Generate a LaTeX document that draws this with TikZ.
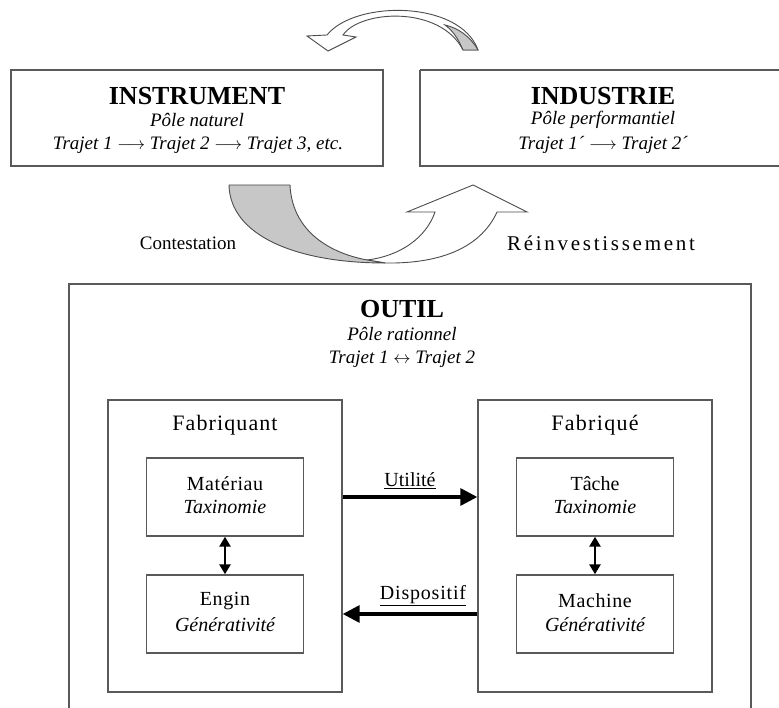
\documentclass[tikz,border=0pt]{standalone}
\usepackage{fontspec}
\setmainfont{Liberation Serif}
\usetikzlibrary{arrows.meta}
\newcommand{\ls}[1]{\addfontfeature{LetterSpace=#1}}
\newcommand{\ra}{\ensuremath{\longrightarrow}}
\begin{document}
\begin{tikzpicture}[x=1pt,y=-1pt,
  box/.style={draw=black!65,line width=1.4pt},
  txt/.style={inner sep=0pt,font=\fontsize{19}{21}\selectfont},
  btxt/.style={inner sep=0pt,font=\fontsize{20}{22}\selectfont},
  ital/.style={inner sep=0pt,font=\fontsize{19}{21}\selectfont\itshape},
  bital/.style={inner sep=0pt,font=\fontsize{20}{22}\selectfont\itshape},
  ttl/.style={inner sep=0pt,font=\fontsize{26}{28}\selectfont\bfseries},
  flow/.style={line width=3.2pt,-{Triangle[length=17pt,width=17pt]}},
  dbl/.style={line width=2.6pt,{Triangle[length=10pt,width=11pt]}-{Triangle[length=10pt,width=11pt]}},
  curv/.style={draw=black!70,line width=0.9pt}]
\useasboundingbox (0,0) rectangle (779,708);
% top boxes
\draw[box] (11,70) rectangle (383,166);
\draw[box] (420,70) -- (790,70) (420,70) -- (420,166) -- (790,166);
\node[ttl] (instr) at (197,96) {INSTRUMENT};
\node[ital] (instrA) at (197,120) {Pôle naturel};
\node[ital] (instrB) at (198,145) {Trajet 1 \ra{} Trajet 2 \ra{} Trajet 3, etc.};
\node[ttl] (indus) at (603,96) {INDUSTRIE};
\node[ital] (indusA) at (603,120) {Pôle performantiel};
\node[ital] (indusB) at (603,145) {Trajet 1´ \ra{} Trajet 2´};
% top curved arrow
\draw[curv,fill=white] (343,35) .. controls (360,10) and (440,5) .. (463,50) -- (478,50)
  .. controls (460,0) and (355,0) .. (327,35) -- (307,36) -- (328,51) -- (356,37) -- cycle;
\fill[black!22,draw=black!70,line width=0.9pt] (463,50) .. controls (458,38) and (452,30) .. (445,25)
  .. controls (458,28) and (470,36) .. (478,50) -- cycle;
% bottom curved arrows
\draw[curv,fill=white] (367,260) .. controls (400,256) and (426,238) .. (435,212) -- (407,212) -- (473,185) -- (527,212) -- (497,212)
  .. controls (482,245) and (445,264) .. (385,263) -- cycle;
\draw[curv,fill=black!22] (229,185) -- (290,185) .. controls (292,228) and (325,252) .. (367,260) -- (385,263)
  .. controls (295,263) and (230,235) .. (229,185) -- cycle;
\node[txt] (cont) at (188,243) {Contestation};
\node[font=\fontsize{21}{23}\selectfont,inner sep=0pt] (reinv) at (601,243) {\ls{13}Réinvestissement};
% outil
\draw[box] (69,720) -- (69,284) -- (751,284) -- (751,720);
\node[ttl] (outil) at (402,309) {OUTIL};
\node[ital] (outilA) at (402,334) {Pôle rationnel};
\node[ital] (outilB) at (402,359) {Trajet 1 $\leftrightarrow$ Trajet 2};
% inner boxes
\node[box,minimum width=234pt,minimum height=292pt] (fabq) at (225,546) {};
\node[box,minimum width=234pt,minimum height=292pt] (fabe) at (595,546) {};
\node[font=\fontsize{22}{24}\selectfont,inner sep=0pt] (fabqT) at (225,425) {\ls{5}Fabriquant};
\node[font=\fontsize{22}{24}\selectfont,inner sep=0pt] (fabeT) at (595,425) {\ls{6}Fabriqué};
\node[box,minimum width=157pt,minimum height=78pt] (mat) at (225,497) {};
\node[box,minimum width=157pt,minimum height=78pt] (eng) at (225,614) {};
\node[box,minimum width=157pt,minimum height=78pt] (tac) at (595,497) {};
\node[box,minimum width=157pt,minimum height=78pt] (mac) at (595,614) {};
\node[btxt] (matA) at (225,484) {\ls{3}Matériau};
\node[bital] (matB) at (225,507) {Taxinomie};
\node[btxt] (engA) at (225,601) {\ls{3}Engin};
\node[bital] (engB) at (225,625) {Générativité};
\node[btxt] (tacA) at (595,484) {Tâche};
\node[bital] (tacB) at (595,507) {Taxinomie};
\node[btxt] (macA) at (595,601) {\ls{3}Machine};
\node[bital] (macB) at (595,625) {Générativité};
\draw[dbl] (mat) -- (eng);
\draw[dbl] (tac) -- (mac);
\draw[flow] (fabq.east |- mat) -- (fabe.west |- mat) node[midway,above=7pt,btxt] (util) {\underline{Utilité}};
\draw[flow] (fabe.west |- eng) -- (fabq.east |- eng) node[midway,above=7pt,btxt,xshift=13pt] (disp) {\underline{\ls{4}Dispositif}};
\end{tikzpicture}
\end{document}
